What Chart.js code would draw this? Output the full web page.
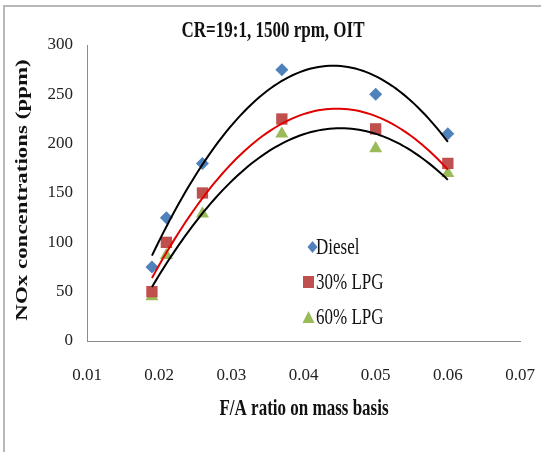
<!DOCTYPE html>
<html>
<head>
<meta charset="utf-8">
<title>NOx vs F/A ratio</title>
<script src="https://cdn.jsdelivr.net/npm/chart.js@4"></script>
<style>
  html, body { margin: 0; padding: 0; background: #fff; }
  #wrap { position: relative; width: 541px; height: 452px; overflow: hidden; }
  #frame { position: absolute; left: 3px; top: 5px; width: 560px; height: 470px;
           border-left: 2px solid #b8b8b8; border-top: 2px solid #b8b8b8; }
  canvas { position: absolute; left: 0; top: 0; }
</style>
</head>
<body>
<div id="wrap">
  <div id="frame"></div>
  <canvas id="chart" width="541" height="452"></canvas>
</div>
<script>
// data
const faRatio = [0.019, 0.021, 0.026, 0.037, 0.05, 0.06];
const diesel  = [75, 125, 180, 275, 250, 210];
const lpg30   = [50, 100, 150, 225, 215, 180];
const lpg60   = [45, 87, 129, 210, 195, 170];

const seriesNames = ['Diesel', '30% LPG', '60% LPG'];
const xTicks = [0.01, 0.02, 0.03, 0.04, 0.05, 0.06, 0.07];
const yTicks = [0, 50, 100, 150, 200, 250, 300];

const chartTitle = 'CR=19:1, 1500 rpm, OIT';
const xTitle = 'F/A ratio on mass basis';
const yTitle = 'NOx concentrations (ppm)';

const STRETCH = 1.35; // the source picture is squashed horizontally

// 2nd order polynomial trendline (least squares), like the spreadsheet one
function polyFit2(xs, ys) {
  let s0 = xs.length, s1 = 0, s2 = 0, s3 = 0, s4 = 0, t0 = 0, t1 = 0, t2 = 0;
  xs.forEach((x, i) => {
    const y = ys[i];
    s1 += x; s2 += x * x; s3 += x * x * x; s4 += x * x * x * x;
    t0 += y; t1 += x * y; t2 += x * x * y;
  });
  const m = [[s0, s1, s2, t0], [s1, s2, s3, t1], [s2, s3, s4, t2]];
  for (let c = 0; c < 3; c++) {
    for (let r = c + 1; r < 3; r++) {
      const f = m[r][c] / m[c][c];
      for (let k = c; k < 4; k++) m[r][k] -= f * m[c][k];
    }
  }
  const b = [0, 0, 0];
  for (let r = 2; r >= 0; r--) {
    let v = m[r][3];
    for (let k = r + 1; k < 3; k++) v -= m[r][k] * b[k];
    b[r] = v / m[r][r];
  }
  return b;
}

function trend(ys) {
  const b = polyFit2(faRatio, ys);
  const lo = Math.min(...faRatio), hi = Math.max(...faRatio);
  const pts = [];
  for (let i = 0; i <= 80; i++) {
    const x = lo + (hi - lo) * i / 80;
    pts.push({ x: x, y: b[0] + b[1] * x + b[2] * x * x });
  }
  return pts;
}

const toPts = ys => faRatio.map((x, i) => ({ x: x, y: ys[i] }));

const colors = ['#4f81bd', '#c0504d', '#9bbb59'];
const styles = ['rectRot', 'rect', 'triangle'];
const radii = [6.5, 8, 7.5];

function drawText(ctx, text, x, y, font) {
  ctx.save();
  ctx.font = font;
  ctx.translate(x, y);
  ctx.scale(1, STRETCH);
  ctx.fillText(text, 0, 0);
  ctx.restore();
}

const textPlugin = {
  id: 'texts',
  afterDraw(chart) {
    const ctx = chart.ctx;
    ctx.save();
    ctx.fillStyle = '#111';
    ctx.textBaseline = 'middle';
    ctx.textAlign = 'center';
    drawText(ctx, chartTitle, 273, 31, 'bold 17px "Liberation Serif"');
    drawText(ctx, xTitle, 304, 409, 'bold 17px "Liberation Serif"');

    // y title, rotated, stretched along its length
    ctx.save();
    ctx.font = 'bold 17px "Liberation Serif"';
    ctx.translate(23, 190);
    ctx.rotate(-Math.PI / 2);
    ctx.scale(STRETCH, 1);
    ctx.fillText(yTitle, 0, 0);
    ctx.restore();

    // legend inside plot
    const rows = [247, 282, 317];
    const markX = [312.5, 308.5, 308.5];
    ctx.textAlign = 'left';
    seriesNames.forEach((name, i) => {
      ctx.fillStyle = colors[i];
      const x = markX[i], y = rows[i];
      ctx.beginPath();
      if (i === 0) {
        ctx.moveTo(x, y - 6); ctx.lineTo(x + 5, y); ctx.lineTo(x, y + 6); ctx.lineTo(x - 5, y);
      } else if (i === 1) {
        ctx.rect(x - 5.5, y - 6, 11, 12);
      } else {
        ctx.moveTo(x, y - 6); ctx.lineTo(x + 6, y + 6); ctx.lineTo(x - 6, y + 6);
      }
      ctx.closePath();
      ctx.fill();
      ctx.fillStyle = '#111';
      drawText(ctx, name, 316, y + 1, '17px "Liberation Serif"');
    });
    ctx.restore();
  }
};

const scatterSets = [diesel, lpg30, lpg60].map((ys, i) => ({
  label: seriesNames[i],
  data: toPts(ys),
  showLine: false,
  pointStyle: styles[i],
  pointRadius: radii[i],
  pointBackgroundColor: colors[i],
  pointBorderColor: colors[i],
  pointBorderWidth: 0,
  order: 2
}));

const trendSets = [diesel, lpg30, lpg60].map((ys, i) => ({
  label: seriesNames[i] + ' trend',
  data: trend(ys),
  showLine: true,
  borderColor: i === 1 ? '#e00000' : '#000',
  borderWidth: 2,
  pointRadius: 0,
  tension: 0,
  order: 1
}));

new Chart(document.getElementById('chart'), {
  type: 'scatter',
  data: { datasets: scatterSets.concat(trendSets) },
  options: {
    responsive: false,
    animation: false,
    events: [],
    layout: { padding: { left: 0, right: 21, top: 45, bottom: 0 } },
    plugins: { legend: { display: false }, title: { display: false }, tooltip: { enabled: false } },
    scales: {
      x: {
        type: 'linear',
        min: 0.01, max: 0.07,
        afterBuildTicks: s => { s.ticks = xTicks.map(v => ({ value: v })); },
        afterFit: s => { s.height = 111; s.paddingLeft = 0; s.paddingRight = 0; },
        grid: { display: false, drawTicks: false },
        border: { display: true, color: '#8c8c8c', width: 1 },
        ticks: {
          padding: 24,
          color: '#222',
          font: { family: 'Liberation Serif', size: 17 },
          callback: v => v.toFixed(2)
        }
      },
      y: {
        min: 0, max: 300,
        afterBuildTicks: s => { s.ticks = yTicks.map(v => ({ value: v })); },
        afterFit: s => { s.width = 87; },
        grid: { display: false, drawTicks: false },
        border: { display: true, color: '#8c8c8c', width: 1 },
        ticks: {
          padding: 14,
          color: '#222',
          font: { family: 'Liberation Serif', size: 17 }
        }
      }
    }
  },
  plugins: [textPlugin]
});
</script>
</body>
</html>
